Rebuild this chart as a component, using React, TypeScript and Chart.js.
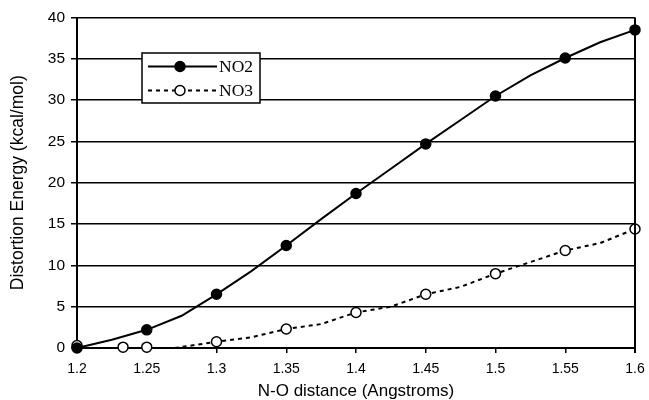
import React, { useEffect, useRef } from "react";
import { Chart, registerables } from "chart.js";

Chart.register(...registerables);

// NO2 curve (line vertices) and its marked points
const no2LineX = [1.2, 1.225, 1.25, 1.275, 1.3, 1.325, 1.35, 1.375, 1.4, 1.425, 1.45, 1.475, 1.5, 1.525, 1.55, 1.575, 1.6];
const no2LineY = [0, 1.0, 2.2, 3.9, 6.5, 9.3, 12.4, 15.6, 18.7, 21.7, 24.7, 27.6, 30.5, 33.0, 35.1, 37.0, 38.5];
const no2MarkX = [1.2, 1.25, 1.3, 1.35, 1.4, 1.45, 1.5, 1.55, 1.6];
const no2MarkY = [0, 2.2, 6.5, 12.4, 18.7, 24.7, 30.5, 35.1, 38.5];

// NO3 curve (line vertices) and its marked points
const no3LineX = [1.27, 1.3, 1.325, 1.35, 1.375, 1.4, 1.425, 1.45, 1.475, 1.5, 1.525, 1.55, 1.575, 1.6];
const no3LineY = [0, 0.75, 1.3, 2.3, 2.9, 4.3, 5.0, 6.5, 7.4, 9.0, 10.4, 11.8, 12.7, 14.4];
const no3MarkX = [1.2, 1.233, 1.25, 1.3, 1.35, 1.4, 1.45, 1.5, 1.55, 1.6];
const no3MarkY = [0.3, 0.1, 0.1, 0.75, 2.3, 4.3, 6.5, 9.0, 11.8, 14.4];

const seriesNames = ["NO2", "NO3"];
const xTitle = "N-O distance (Angstroms)";
const yTitle = "Distortion Energy (kcal/mol)";

const pts = (xs: number[], ys: number[]) => xs.map((x, i) => ({ x, y: ys[i] }));

const legendPlugin = {
  id: "boxLegend",
  afterDraw(chart: any) {
    const ctx = chart.ctx;
    ctx.save();
    const bx = 142, by = 53, bw = 118, bh = 50;
    ctx.fillStyle = "#fff";
    ctx.fillRect(bx, by, bw, bh);
    ctx.strokeStyle = "#000";
    ctx.lineWidth = 1.5;
    ctx.strokeRect(bx, by, bw, bh);
    const rows = [66.5, 90.5];
    rows.forEach((yy, i) => {
      ctx.beginPath();
      ctx.lineWidth = 2;
      ctx.setLineDash(i === 0 ? [] : [4, 4]);
      ctx.moveTo(148, yy);
      ctx.lineTo(217, yy);
      ctx.stroke();
      ctx.setLineDash([]);
      ctx.beginPath();
      ctx.arc(180, yy, 5, 0, Math.PI * 2);
      ctx.fillStyle = i === 0 ? "#000" : "#fff";
      ctx.fill();
      ctx.lineWidth = 1.5;
      ctx.stroke();
      ctx.fillStyle = "#000";
      ctx.font = "17.5px 'Liberation Serif'";
      ctx.textBaseline = "middle";
      ctx.textAlign = "left";
      ctx.fillText(seriesNames[i], 219, yy + 1);
    });
    // right border of plot
    const a = chart.chartArea;
    ctx.beginPath();
    ctx.lineWidth = 2;
    ctx.strokeStyle = "#000";
    ctx.moveTo(a.right, a.top);
    ctx.lineTo(a.right, a.bottom + 5);
    ctx.stroke();
    ctx.restore();
  },
};

export default function App() {
  const ref = useRef<HTMLCanvasElement>(null);
  useEffect(() => {
    document.body.style.margin = "0";
    const chart = new Chart(ref.current!, {
      type: "scatter",
      data: {
        datasets: [
          {
            label: "NO2 markers",
            data: pts(no2MarkX, no2MarkY),
            showLine: false,
            pointRadius: 5,
            pointBackgroundColor: "#000",
            pointBorderColor: "#000",
            pointBorderWidth: 1.5,
            clip: false,
          } as any,
          {
            label: "NO3 markers",
            data: pts(no3MarkX, no3MarkY),
            showLine: false,
            pointRadius: 5,
            pointBackgroundColor: "#fff",
            pointBorderColor: "#000",
            pointBorderWidth: 1.5,
            clip: false,
          },
          {
            label: "NO2",
            data: pts(no2LineX, no2LineY),
            showLine: true,
            pointRadius: 0,
            borderColor: "#000",
            borderWidth: 2,
            clip: false,
          },
          {
            label: "NO3",
            data: pts(no3LineX, no3LineY),
            showLine: true,
            pointRadius: 0,
            borderColor: "#000",
            borderWidth: 2,
            borderDash: [4, 4],
            clip: false,
          },
        ],
      },
      options: {
        animation: false,
        responsive: false,
        layout: { padding: { top: 17.5, right: 14, left: 0, bottom: 0 } },
        plugins: { legend: { display: false }, tooltip: { enabled: false } },
        scales: {
          x: {
            type: "linear",
            min: 1.2,
            max: 1.6,
            ticks: {
              stepSize: 0.05,
              color: "#000",
              font: { family: "'Liberation Sans'", size: 14 },
              padding: 8,
              maxRotation: 0,
              callback: (v: any) => String(parseFloat(Number(v).toFixed(2))),
            },
            grid: { drawOnChartArea: false, drawTicks: true, tickLength: 5, color: "#000", lineWidth: 1.5 },
            border: { color: "#000", width: 2 },
            title: {
              display: true,
              text: xTitle,
              color: "#000",
              font: { family: "'Liberation Sans'", size: 17 },
              padding: { top: 0, bottom: -2 },
            },
            afterFit: (s: any) => {
              s.height = 52;
              s.paddingRight = 0;
              s.paddingLeft = 0;
            },
          },
          y: {
            min: 0,
            max: 40,
            ticks: {
              stepSize: 5,
              color: "#000",
              font: { family: "'Liberation Sans'", size: 15.5 },
              padding: 6,
            },
            grid: { color: "#000", lineWidth: 1.5, tickLength: 6 },
            border: { color: "#000", width: 2 },
            title: {
              display: true,
              text: yTitle,
              color: "#000",
              font: { family: "'Liberation Sans'", size: 17.5 },
              padding: { top: 8, bottom: 0 },
            },
            afterFit: (s: any) => {
              s.width = 77;
            },
          },
        },
      },
      plugins: [legendPlugin],
    });
    return () => chart.destroy();
  }, []);
  return (
    <div style={{ width: 649, height: 400 }}>
      <canvas ref={ref} width={649} height={400} />
    </div>
  );
}
